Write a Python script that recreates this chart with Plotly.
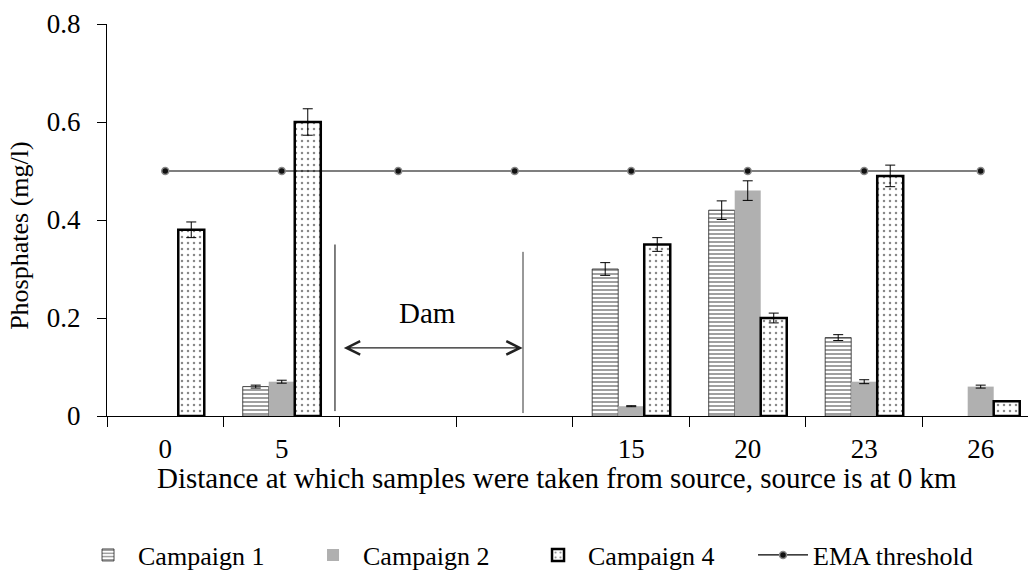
import plotly.graph_objects as go

# Sampling stations (km from source); the two blank slots are the dam reach
stations = ["0", "5", " ", "  ", "15", "20", "23", "26"]
station_labels = ["0", "5", "", "", "15", "20", "23", "26"]

# Phosphate concentrations (mg/l) and their error margins per campaign
campaign1 = [None, 0.06, None, None, 0.30, 0.42, 0.16, None]
campaign1_err = [0, 0.003, 0, 0, 0.013, 0.019, 0.006, 0]
campaign2 = [None, 0.07, None, None, 0.02, 0.46, 0.07, 0.06]
campaign2_err = [0, 0.003, 0, 0, 0.001, 0.02, 0.004, 0.003]
campaign4 = [0.38, 0.60, None, None, 0.35, 0.20, 0.49, 0.03]
campaign4_err = [0.016, 0.027, 0, 0, 0.014, 0.01, 0.022, 0]
ema_threshold = [0.5] * len(stations)

y_ticks = [0, 0.2, 0.4, 0.6, 0.8]
y_tick_text = ["0", "0.2", "0.4", "0.6", "0.8"]

FONT = "Liberation Serif, Times New Roman, serif"
ERR_STYLE = dict(type="data", visible=True, color="black", thickness=1, width=5)

fig = go.Figure()

fig.add_trace(go.Bar(
    name="Campaign 1", x=stations, y=campaign1,
    error_y=dict(array=campaign1_err, **ERR_STYLE),
    marker=dict(color="white",
                line=dict(color="#222222", width=0.8),
                pattern=dict(shape="-", fgcolor="#111111", bgcolor="white",
                             size=4, solidity=0.4)),
))
fig.add_trace(go.Bar(
    name="Campaign 2", x=stations, y=campaign2,
    error_y=dict(array=campaign2_err, **ERR_STYLE),
    marker=dict(color="#b0b0b0", line=dict(width=0)),
))
fig.add_trace(go.Bar(
    name="Campaign 4", x=stations, y=campaign4,
    error_y=dict(array=campaign4_err, **ERR_STYLE),
    marker=dict(color="white",
                line=dict(color="black", width=2.5),
                pattern=dict(shape=".", fgcolor="#111111", bgcolor="white",
                             size=6, solidity=0.14)),
))
fig.add_trace(go.Scatter(
    name="EMA threshold", x=stations, y=ema_threshold,
    mode="lines+markers",
    line=dict(color="black", width=1.2),
    marker=dict(color="#111111", size=7, line=dict(color="#8a8a8a", width=1.5)),
))

# Dam reach: boundary lines and double-headed arrow
fig.add_shape(type="line", xref="x", yref="y", x0=1.457, x1=1.457, y0=0.01, y1=0.35,
              line=dict(color="black", width=1))
fig.add_shape(type="line", xref="x", yref="y", x0=3.071, x1=3.071, y0=0.006, y1=0.335,
              line=dict(color="#333333", width=1))
fig.add_annotation(x=3.068, y=0.139, ax=1.52, ay=0.139, xref="x", yref="y",
                   axref="x", ayref="y", text="", showarrow=True,
                   arrowside="end+start", arrowhead=5, startarrowhead=5,
                   arrowsize=2.4, startarrowsize=2.4, arrowwidth=1.1,
                   arrowcolor="#222222")
fig.add_annotation(x=2.247, y=0.21, xref="x", yref="y", text="Dam", showarrow=False,
                   font=dict(family=FONT, size=29, color="black"))

# Axis titles
fig.add_annotation(x=0.4886, y=-0.158, xref="paper", yref="paper",
                   xanchor="center", yanchor="middle",
                   text="Distance at which samples were taken from source, source is at 0 km",
                   showarrow=False, font=dict(family=FONT, size=29, color="black"))
fig.add_annotation(x=-0.0945, y=0.462, xref="paper", yref="paper",
                   xanchor="center", yanchor="middle",
                   text="Phosphates (mg/l)", textangle=-90,
                   showarrow=False, font=dict(family=FONT, size=26, color="black"))

fig.update_layout(
    width=1028, height=574,
    margin=dict(l=107, r=0, t=24, b=158),
    paper_bgcolor="white", plot_bgcolor="white",
    barmode="group", bargap=0.33, bargroupgap=0,
    font=dict(family=FONT, size=26, color="black"),
    showlegend=True,
    legend=dict(orientation="h",
                xref="container", x=0.0759, xanchor="left",
                yref="container", y=0.033, yanchor="middle",
                font=dict(family=FONT, size=26, color="black"),
                entrywidth=160, itemwidth=50, traceorder="normal",
                bgcolor="rgba(0,0,0,0)"),
    xaxis=dict(
        type="category", categoryorder="array", categoryarray=stations,
        tickmode="array", tickvals=stations, ticktext=station_labels,
        range=[-0.5, 7.406], tickson="boundaries",
        showline=True, linecolor="black", linewidth=1.3,
        ticks="outside", ticklen=10, tickcolor="black", tickwidth=1.3,
        showgrid=False, zeroline=False, ticklabelstandoff=8,
        tickfont=dict(family=FONT, size=27, color="black"),
    ),
    yaxis=dict(
        range=[0, 0.8], tickmode="array", tickvals=y_ticks, ticktext=y_tick_text,
        showline=True, linecolor="black", linewidth=1.3,
        ticks="outside", ticklen=9, tickcolor="black", tickwidth=1.3,
        showgrid=False, zeroline=False, ticklabelstandoff=11,
        tickfont=dict(family=FONT, size=27, color="black"),
    ),
)

fig.write_html("out.html")
